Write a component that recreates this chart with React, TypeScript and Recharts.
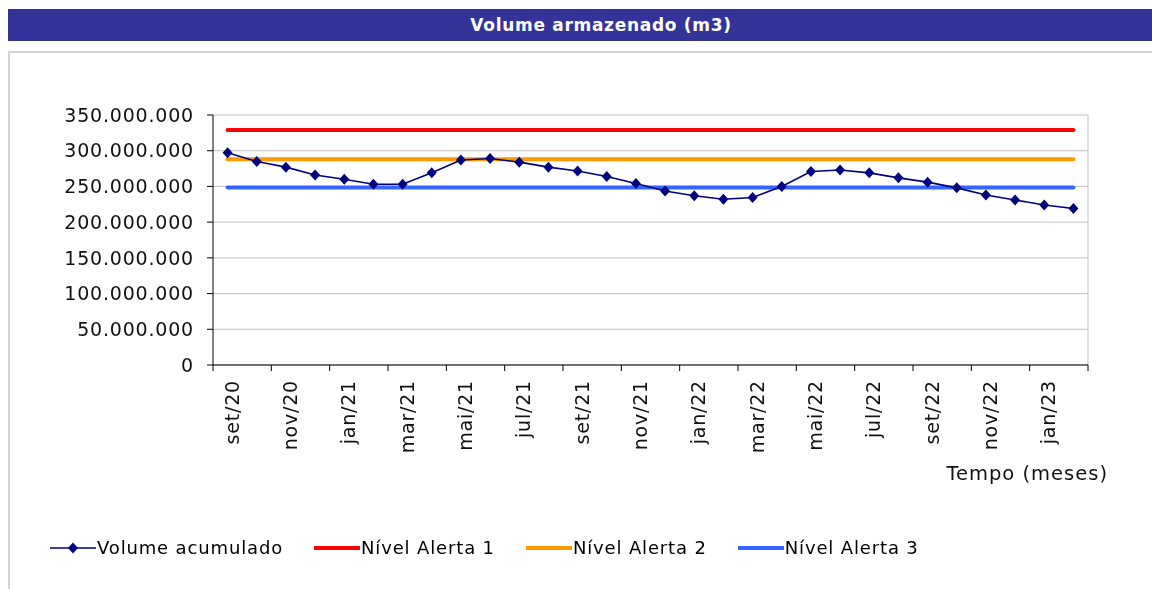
import React from 'react';
import { LineChart, Line, XAxis, YAxis, CartesianGrid, Label } from 'recharts';

// meses (set/20 .. fev/23)
const MONTHS = [
  'set/20', 'out/20', 'nov/20', 'dez/20', 'jan/21', 'fev/21', 'mar/21', 'abr/21',
  'mai/21', 'jun/21', 'jul/21', 'ago/21', 'set/21', 'out/21', 'nov/21', 'dez/21',
  'jan/22', 'fev/22', 'mar/22', 'abr/22', 'mai/22', 'jun/22', 'jul/22', 'ago/22',
  'set/22', 'out/22', 'nov/22', 'dez/22', 'jan/23', 'fev/23',
];

const VOLUME = [
  297000000, 285000000, 277000000, 266000000, 260000000, 253000000, 253000000, 269000000,
  287000000, 289000000, 284000000, 277000000, 271500000, 264000000, 254000000, 243500000,
  237000000, 232000000, 234500000, 250000000, 271000000, 273000000, 269000000, 262000000,
  256000000, 248000000, 238000000, 231000000, 224000000, 219000000,
];

const ALERTA_1 = 329000000;
const ALERTA_2 = 288000000;
const ALERTA_3 = 248500000;

const Y_TICKS = [0, 50000000, 100000000, 150000000, 200000000, 250000000, 300000000, 350000000];

const data = MONTHS.map((m, i) => ({
  mes: m,
  volume: VOLUME[i],
  alerta1: ALERTA_1,
  alerta2: ALERTA_2,
  alerta3: ALERTA_3,
}));

const CHART_W = 1144;
const CHART_H = 529;
const Y_AXIS_W = 205;
const RIGHT = 64;
const BAND = (CHART_W - Y_AXIS_W - RIGHT) / MONTHS.length;

const FONT = "'DejaVu Sans', Verdana, sans-serif";

const fmt = (v: number) => String(v).replace(/\B(?=(\d{3})+(?!\d))/g, '.');

const MonthTick = (props: any) => {
  const { x, y, payload } = props;
  const idx = MONTHS.indexOf(payload.value);
  const last = idx === MONTHS.length - 2;
  return (
    <g>
      <line x1={x - BAND / 2} x2={x - BAND / 2} y1={y} y2={y + 6} stroke="#000" />
      {last && <line x1={x + BAND * 1.5} x2={x + BAND * 1.5} y1={y} y2={y + 6} stroke="#000" />}
      <text
        transform={`translate(${x + 11},${y + 15}) rotate(-90)`}
        textAnchor="end"
        fontSize={19}
        letterSpacing={0.8}
        fontFamily={FONT}
        fill="#111"
      >
        {payload.value}
      </text>
    </g>
  );
};

const Diamond = (props: any) => {
  const { cx, cy, index } = props;
  return (
    <path
      key={`d-${index}`}
      d={`M${cx},${cy - 5.5}L${cx + 5},${cy}L${cx},${cy + 5.5}L${cx - 5},${cy}Z`}
      fill="#000080"
    />
  );
};

const legendItems = [
  { name: 'Volume acumulado', color: '#000080', thick: false },
  { name: 'Nível Alerta 1', color: '#ff0000', thick: true },
  { name: 'Nível Alerta 2', color: '#ff9900', thick: true },
  { name: 'Nível Alerta 3', color: '#3366ff', thick: true },
];

export default function App() {
  return (
    <div style={{ position: 'fixed', left: 8, top: 8, width: 1144, height: 581, overflow: 'hidden', fontFamily: FONT }}>
      <div
        style={{
          position: 'absolute', left: 0, top: 1, width: 1144, height: 32, background: '#333399',
          color: '#fff', fontWeight: 'bold', fontSize: 17, letterSpacing: 0.7, display: 'flex',
          alignItems: 'center', justifyContent: 'center', paddingLeft: 42, boxSizing: 'border-box',
        }}
      >
        Volume armazenado (m3)
      </div>
      <div
        style={{
          position: 'absolute', left: 0, top: 43, width: 1200, height: 600,
          border: '2px solid #d4d4d4', boxSizing: 'border-box',
        }}
      />
      <div style={{ position: 'absolute', left: 0, top: 44 }}>
        <LineChart width={CHART_W} height={CHART_H} data={data} margin={{ top: 63, right: RIGHT, left: 0, bottom: 91 }}>
          <CartesianGrid
            stroke="#c0c0c0"
            verticalCoordinatesGenerator={({ offset }: any) => [offset.left + offset.width]}
          />
          <XAxis
            dataKey="mes"
            interval={1}
            height={125}
            padding={{ left: BAND / 2, right: BAND / 2 }}
            tickLine={false}
            tickSize={0}
            tickMargin={0}
            tick={<MonthTick />}
            axisLine={{ stroke: '#000' }}
          >
            <Label
              value="Tempo (meses)"
              position="insideBottomRight"
              offset={10}
              dx={30}
              fontSize={19.5}
              letterSpacing={1}
              fontFamily={FONT}
              fill="#111"
            />
          </XAxis>
          <YAxis
            width={Y_AXIS_W}
            domain={[0, 350000000]}
            ticks={Y_TICKS}
            tickFormatter={fmt}
            tickSize={6}
            tickMargin={13}
            axisLine={{ stroke: '#000' }}
            tickLine={{ stroke: '#000' }}
            tick={{ fontSize: 19, letterSpacing: 0.8, fill: '#111', fontFamily: FONT }}
          />
          <Line
            dataKey="alerta1"
            name="Nível Alerta 1"
            stroke="#ff0000"
            strokeWidth={4}
            strokeLinecap="round"
            dot={false}
            isAnimationActive={false}
          />
          <Line
            dataKey="alerta2"
            name="Nível Alerta 2"
            stroke="#ff9900"
            strokeWidth={4}
            strokeLinecap="round"
            dot={false}
            isAnimationActive={false}
          />
          <Line
            dataKey="alerta3"
            name="Nível Alerta 3"
            stroke="#3366ff"
            strokeWidth={4}
            strokeLinecap="round"
            dot={false}
            isAnimationActive={false}
          />
          <Line
            dataKey="volume"
            name="Volume acumulado"
            stroke="#000080"
            strokeWidth={1.6}
            dot={<Diamond />}
            isAnimationActive={false}
          />
        </LineChart>
      </div>
      <div
        style={{
          position: 'absolute', left: 42, top: 529, display: 'flex', alignItems: 'center',
          fontSize: 18, letterSpacing: 0.85, color: '#000',
        }}
      >
        {legendItems.map((it) => (
          <div key={it.name} style={{ display: 'flex', alignItems: 'center', marginRight: 31 }}>
            <svg width={46} height={14}>
              <line x1={0} x2={46} y1={7} y2={7} stroke={it.color} strokeWidth={it.thick ? 4 : 1.5} />
              {!it.thick && <path d="M23,1.5L28,7L23,12.5L18,7Z" fill={it.color} />}
            </svg>
            <span style={{ marginLeft: 1 }}>{it.name}</span>
          </div>
        ))}
      </div>
    </div>
  );
}
